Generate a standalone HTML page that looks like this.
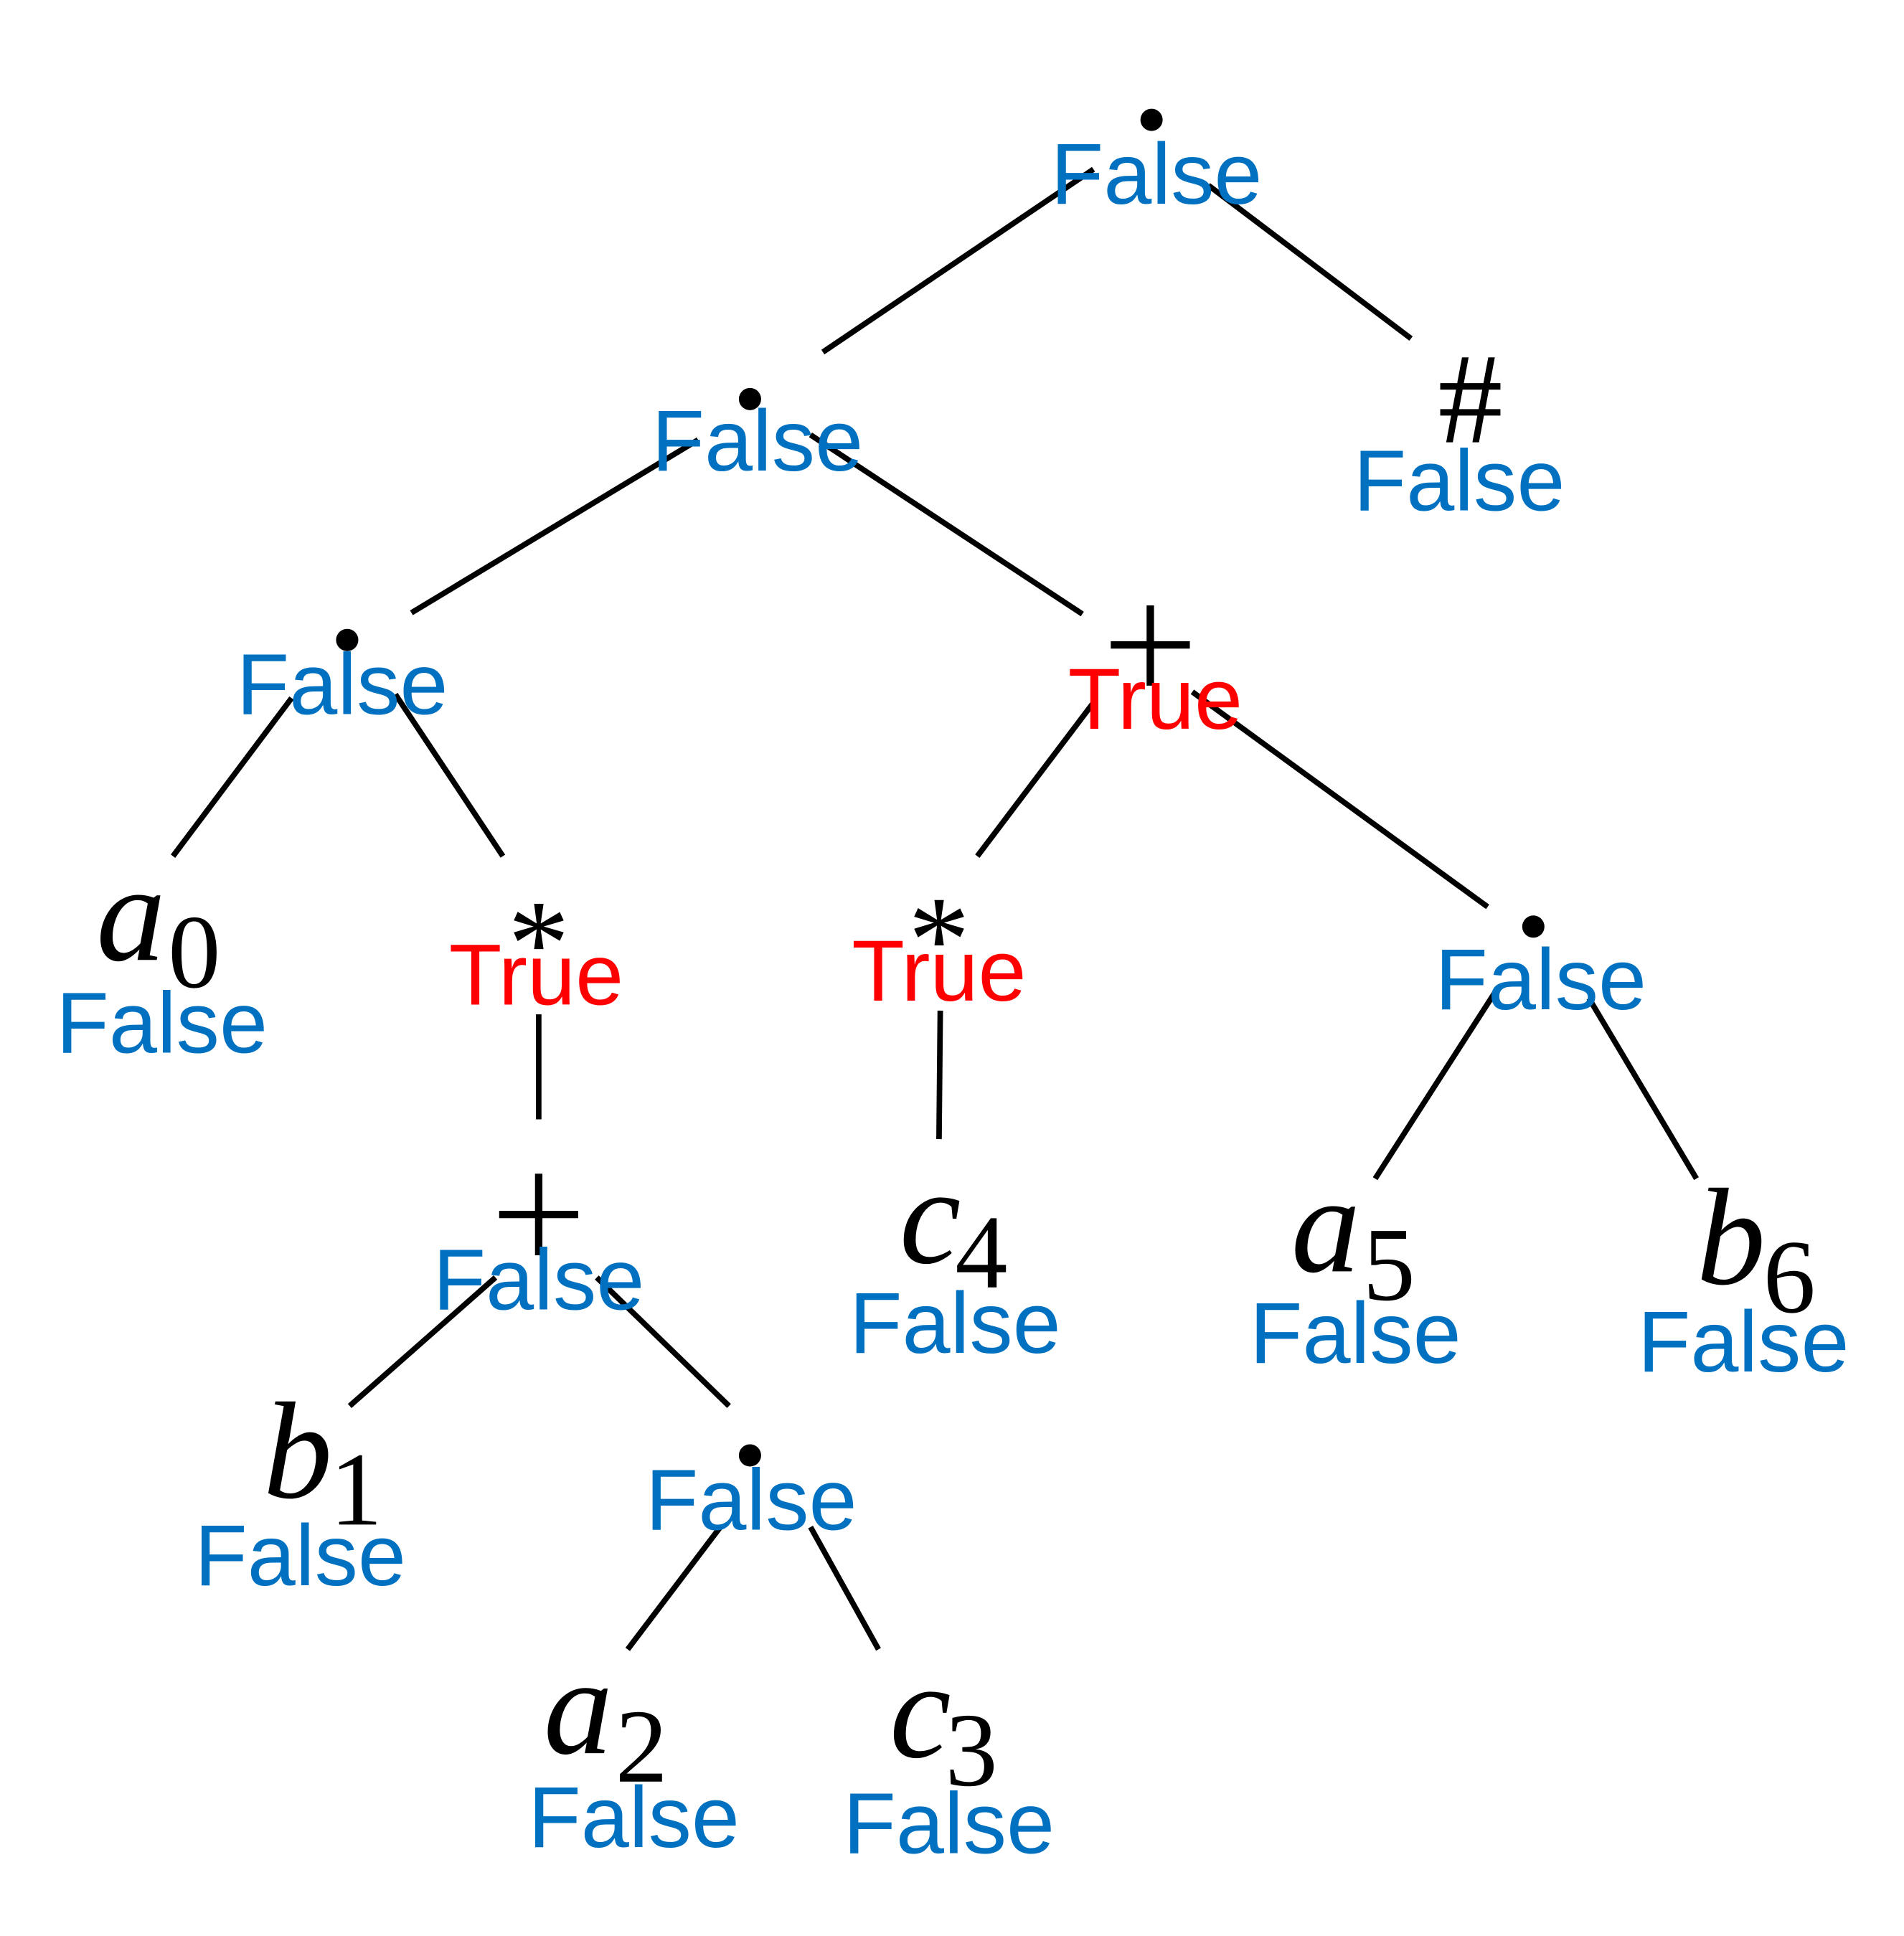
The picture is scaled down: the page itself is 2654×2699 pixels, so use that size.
<!DOCTYPE html>
<html><head><meta charset="utf-8"><style>
html,body{margin:0;padding:0;background:#fff;}
svg{display:block;}
.f{font-family:"Liberation Sans",sans-serif;font-size:70px;fill:#0070C0;text-anchor:middle;}
.t{font-family:"Liberation Sans",sans-serif;font-size:70px;fill:#FF0000;text-anchor:middle;}
.m{font-family:"Liberation Serif",serif;font-style:italic;font-size:112px;fill:#000;}
.s{font-family:"Liberation Serif",serif;font-size:85px;fill:#000;}
</style></head><body>
<svg width="2654" height="2699" viewBox="0 0 1541 1567" preserveAspectRatio="none">
<g stroke="#000" stroke-width="4.5" fill="none">
<line x1="666" y1="285" x2="885" y2="137"/>
<line x1="978" y1="150" x2="1142" y2="274"/>
<line x1="333" y1="496" x2="565" y2="356"/>
<line x1="656" y1="352" x2="876" y2="497"/>
<line x1="140" y1="693" x2="236" y2="565"/>
<line x1="320" y1="562" x2="407" y2="693"/>
<line x1="791" y1="693" x2="884" y2="570"/>
<line x1="965" y1="560" x2="1204" y2="734"/>
<line x1="436" y1="821" x2="436" y2="906"/>
<line x1="761" y1="818" x2="760" y2="922"/>
<line x1="1113" y1="954" x2="1212" y2="800"/>
<line x1="1286" y1="808" x2="1373" y2="954"/>
<line x1="283" y1="1138" x2="401" y2="1034"/>
<line x1="483" y1="1034" x2="590" y2="1138"/>
<line x1="508" y1="1335" x2="583" y2="1236"/>
<line x1="656" y1="1236" x2="711" y2="1335"/>
</g>
<g fill="#000">
<circle cx="932" cy="97" r="9"/>
<circle cx="607" cy="323" r="9"/>
<circle cx="281" cy="518" r="9"/>
<circle cx="1241" cy="750" r="9"/>
<circle cx="607" cy="1178" r="9"/>
</g>
<g stroke="#000" stroke-width="6">
<line x1="899" y1="522" x2="963" y2="522"/><line x1="931" y1="490" x2="931" y2="555"/>
<line x1="404" y1="983" x2="468" y2="983"/><line x1="436" y1="950" x2="436" y2="1016"/>
</g>
<text class="s" x="1190" y="358" text-anchor="middle" style="font-size:105px">#</text>
<text class="s" x="436" y="797" text-anchor="middle" style="font-size:100px">*</text>
<text class="s" x="760" y="794" text-anchor="middle" style="font-size:100px">*</text>
<text class="m" x="78" y="777">a</text><text class="s" x="136" y="799">0</text>
<text class="m" x="728" y="1022">c</text><text class="s" x="773" y="1042">4</text>
<text class="m" x="1045" y="1029">a</text><text class="s" x="1103" y="1052">5</text>
<text class="m" x="1373" y="1039">b</text><text class="s" x="1427" y="1062">6</text>
<text class="m" x="213" y="1212">b</text><text class="s" x="267" y="1234">1</text>
<text class="m" x="440" y="1419">a</text><text class="s" x="498" y="1442">2</text>
<text class="m" x="720" y="1422">c</text><text class="s" x="765" y="1445">3</text>
<text class="f" x="936" y="165">False</text>
<text class="f" x="613" y="381">False</text>
<text class="f" x="1181" y="413">False</text>
<text class="f" x="277" y="578">False</text>
<text class="t" x="935" y="590">True</text>
<text class="f" x="131" y="852">False</text>
<text class="t" x="434" y="813">True</text>
<text class="t" x="760" y="810">True</text>
<text class="f" x="1247" y="817">False</text>
<text class="f" x="436" y="1060">False</text>
<text class="f" x="773" y="1095">False</text>
<text class="f" x="1097" y="1103">False</text>
<text class="f" x="1411" y="1110">False</text>
<text class="f" x="243" y="1283">False</text>
<text class="f" x="608" y="1238">False</text>
<text class="f" x="513" y="1495">False</text>
<text class="f" x="768" y="1500">False</text>
</svg>
</body></html>
